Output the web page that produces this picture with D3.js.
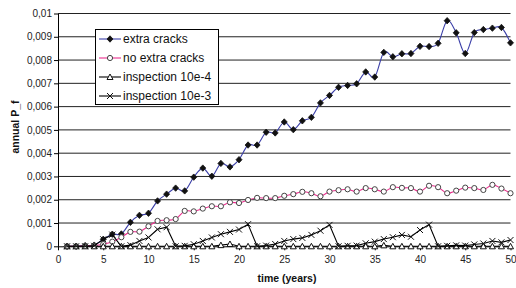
<!DOCTYPE html>
<html>
<head>
<meta charset="utf-8">
<script src="https://cdn.jsdelivr.net/npm/d3@7"></script>
<style>
  body { margin: 0; background: #fff; }
  svg { display: block; font-family: "Liberation Sans", Arial, sans-serif; }
</style>
</head>
<body>
<div id="chart"></div>
<script>
// years 1..50
const years = d3.range(1, 51);

const extraCracks = [0, 0, 0.00003, 0.00005, 0.0003, 0.00052, 0.00053, 0.00103, 0.00133, 0.00142,
  0.00195, 0.00224, 0.0025, 0.00238, 0.00297, 0.00336, 0.00301, 0.00356, 0.00341, 0.00372,
  0.00435, 0.00435, 0.0049, 0.00487, 0.00534, 0.00501, 0.00539, 0.00554, 0.00616, 0.00648,
  0.00683, 0.00691, 0.00698, 0.00749, 0.00727, 0.00833, 0.00814, 0.00827, 0.00828, 0.00859,
  0.00858, 0.00872, 0.00969, 0.00917, 0.00828, 0.00918, 0.00931, 0.00937, 0.0094, 0.00874];

const noExtraCracks = [0, 0, 0.00002, 0.00003, 0.00009, 0.0002, 0.00039, 0.00062, 0.00063, 0.00086,
  0.00109, 0.00112, 0.00117, 0.00152, 0.0015, 0.00162, 0.00172, 0.00172, 0.00189, 0.00186,
  0.00199, 0.00208, 0.00207, 0.00207, 0.00217, 0.00224, 0.00234, 0.00228, 0.00215, 0.00235,
  0.00241, 0.00245, 0.00235, 0.0025, 0.00245, 0.00235, 0.00254, 0.00251, 0.0025, 0.00235,
  0.0026, 0.00254, 0.00228, 0.00239, 0.00252, 0.0025, 0.00242, 0.00264, 0.00248, 0.00228];

const inspection4 = [0, 0, 0, 0, 0, 0, 0, 0, 0, 0,
  0, 0, 0, 0, 0, 0, 0, 0.00005, 0.0001, 0,
  0, 0, 0, 0, 0, 0, 0, 0, 0, 0,
  0, 0, 0, 0, 0, 0.00004, 0, 0, 0, 0,
  0, 0, 0, 0, 0, 0, 0, 0, 0, 0];

const inspection3 = [0, 0, 0, 0.00002, 0.0003, 0.0005, 0, 0.00005, 0.00023, 0.00038,
  0.00073, 0.00082, 0, 0.00002, 0.00009, 0.00023, 0.00038, 0.00052, 0.00062, 0.00072,
  0.00095, 0, 0.00003, 0.0001, 0.00023, 0.00031, 0.00036, 0.00049, 0.00067, 0.00092,
  0, 0.00002, 0.00003, 0.00013, 0.0002, 0.00031, 0.00039, 0.00049, 0.00041, 0.0007,
  0.00093, 0, 0.00002, 0.00004, 0.00003, 0.00008, 0.00012, 0.00023, 0.00017, 0.00027];

const yTicks = d3.range(0, 11).map(d => d / 1000);
const xTicks = d3.range(0, 51, 5);

const series = [
  { name: "extra cracks", values: extraCracks, color: "#3b3fa8", marker: "diamond", smooth: true },
  { name: "no extra cracks", values: noExtraCracks, color: "#ec2f8e", marker: "circle", smooth: true },
  { name: "inspection 10e-4", values: inspection4, color: "#000", marker: "triangle", smooth: false },
  { name: "inspection 10e-3", values: inspection3, color: "#000", marker: "cross", smooth: false }
];

const width = 516, height = 288;
const svg = d3.select("#chart").append("svg")
  .attr("width", width).attr("height", height);

const x = d3.scaleLinear().domain([0, 50]).range([58, 510.5]);
const y = d3.scaleLinear().domain([0, 0.01]).range([246.3, 13.5]);

// gridlines
svg.append("g")
  .selectAll("line")
  .data(yTicks.slice(1))
  .enter().append("line")
  .attr("x1", x(0)).attr("x2", x(50))
  .attr("y1", d => y(d)).attr("y2", d => y(d))
  .attr("stroke", "#222").attr("stroke-width", 1);

const fmt = d => d === 0 ? "0" : d3.format(".3~f")(d).replace(".", ",");

const yAxis = svg.append("g")
  .attr("transform", "translate(" + x(0) + ",0)")
  .call(d3.axisLeft(y).tickValues(yTicks).tickFormat(fmt).tickSize(4).tickPadding(2).tickSizeOuter(0));

const xAxis = svg.append("g")
  .attr("transform", "translate(0," + y(0) + ")")
  .call(d3.axisBottom(x).tickValues(xTicks).tickSize(4).tickPadding(6).tickSizeOuter(0));

[yAxis, xAxis].forEach(a => {
  a.selectAll("text").attr("font-size", 10).attr("fill", "#222").attr("font-family", null);
  a.selectAll("line,path").attr("stroke", "#000");
});

// marker shapes
function markerPath(type) {
  if (type === "diamond") return "M0,-3.2L3,0L0,3.2L-3,0Z";
  if (type === "triangle") return "M0,-3L3,2.5L-3,2.5Z";
  if (type === "cross") return "M-3,-3L3,3M-3,3L3,-3";
  return null;
}

function drawMarker(g, type, color) {
  if (type === "circle") {
    g.append("circle").attr("r", 2.6)
      .attr("fill", "#fff").attr("stroke", "#444").attr("stroke-width", 1);
  } else if (type === "diamond") {
    g.append("path").attr("d", markerPath(type)).attr("fill", "#111").attr("stroke", "#111").attr("stroke-width", 0.8);
  } else if (type === "triangle") {
    g.append("path").attr("d", markerPath(type)).attr("fill", "#fff").attr("stroke", "#111").attr("stroke-width", 1);
  } else {
    g.append("path").attr("d", markerPath(type)).attr("fill", "none").attr("stroke", "#111").attr("stroke-width", 1);
  }
}

series.forEach(s => {
  const line = d3.line()
    .x((d, i) => x(years[i]))
    .y(d => y(d))
    .curve(s.smooth ? d3.curveCatmullRom.alpha(0) : d3.curveLinear);

  svg.append("path")
    .datum(s.values)
    .attr("fill", "none")
    .attr("stroke", s.color)
    .attr("stroke-width", 1.1)
    .attr("d", line);

  const pts = svg.append("g").selectAll("g")
    .data(s.values)
    .enter().append("g")
    .attr("transform", (d, i) => "translate(" + x(years[i]) + "," + y(d) + ")");
  pts.each(function() { drawMarker(d3.select(this), s.marker, s.color); });
});

// legend
const legend = svg.append("g");
legend.append("rect")
  .attr("x", 95.5).attr("y", 29.5).attr("width", 123).attr("height", 75)
  .attr("fill", "#fff").attr("stroke", "#000").attr("stroke-width", 1);

series.forEach((s, i) => {
  const ly = 39 + i * 19;
  legend.append("line")
    .attr("x1", 99).attr("x2", 121).attr("y1", ly).attr("y2", ly)
    .attr("stroke", s.color).attr("stroke-width", 1.1);
  const m = legend.append("g").attr("transform", "translate(110," + ly + ")");
  drawMarker(m, s.marker, s.color);
  legend.append("text")
    .attr("x", 123).attr("y", ly).attr("dy", "0.35em")
    .attr("font-size", 12).attr("fill", "#111")
    .text(s.name);
});

// axis titles
svg.append("text")
  .attr("x", 287).attr("y", 282)
  .attr("text-anchor", "middle")
  .attr("font-size", 10.5).attr("font-weight", "bold").attr("fill", "#111")
  .text("time (years)");

svg.append("text")
  .attr("transform", "translate(19,127) rotate(-90)")
  .attr("text-anchor", "middle")
  .attr("font-size", 10.5).attr("font-weight", "bold").attr("fill", "#111")
  .text("annual P_f");
</script>
</body>
</html>
